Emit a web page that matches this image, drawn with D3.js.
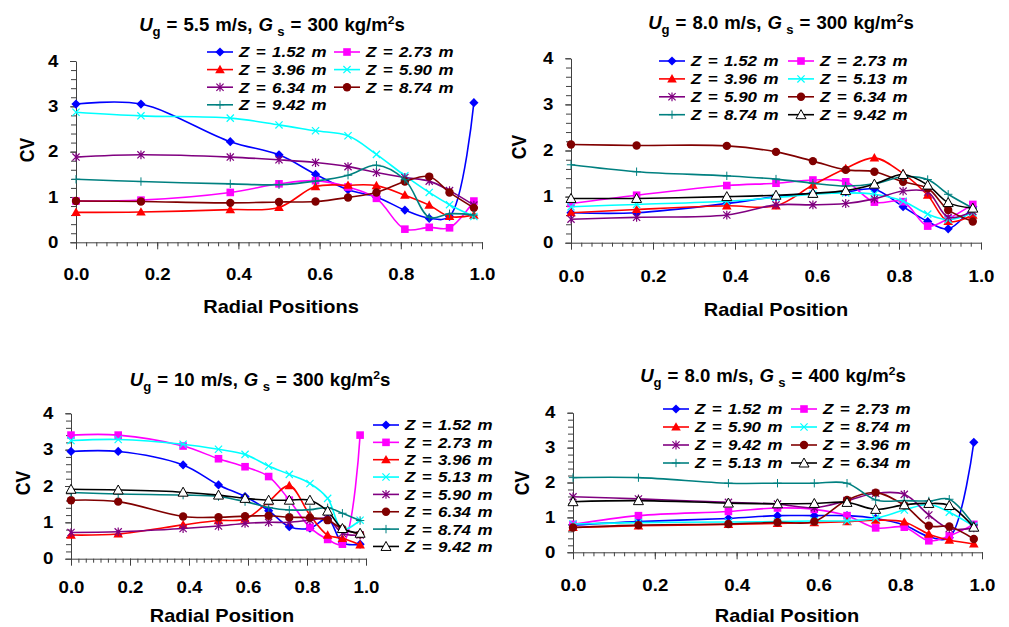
<!DOCTYPE html>
<html>
<head>
<meta charset="utf-8">
<script src="https://cdn.jsdelivr.net/npm/d3@7"></script>
<style>
  body { margin: 0; background: #fff; }
  svg { display: block; font-family: "Liberation Sans", Arial, sans-serif; }
</style>
</head>
<body>
<svg id="chart" width="1009" height="627"></svg>
<script>
// radial positions shared by all four panels
const radial = [0, 0.16, 0.38, 0.5, 0.59, 0.67, 0.74, 0.81, 0.87, 0.92, 0.98];

// panel 1: Ug = 5.5 m/s, Gs = 300
const zP1 = ['1.52', '2.73', '3.96', '5.90', '6.34', '8.74', '9.42'];
const cvP1 = [
  [3.05, 3.05, 2.22, 1.93, 1.50, 1.16, 1.00, 0.71, 0.53, 0.57, 3.08],
  [0.91, 0.93, 1.10, 1.29, 1.36, 1.22, 0.97, 0.29, 0.33, 0.32, 0.91],
  [0.66, 0.67, 0.72, 0.77, 1.23, 1.26, 1.25, 1.04, 0.82, 0.57, 0.60],
  [2.87, 2.79, 2.74, 2.59, 2.46, 2.35, 1.94, 1.47, 1.10, 0.83, 0.57],
  [1.88, 1.93, 1.88, 1.82, 1.76, 1.67, 1.54, 1.43, 1.35, 1.14, 0.82],
  [0.91, 0.90, 0.87, 0.89, 0.90, 0.99, 1.10, 1.34, 1.45, 1.10, 0.76],
  [1.39, 1.34, 1.29, 1.27, 1.35, 1.48, 1.70, 1.38, 0.55, 0.63, 0.60]
];

// panel 2: Ug = 8.0 m/s, Gs = 300
const zP2 = ['1.52', '2.73', '3.96', '5.13', '5.90', '6.34', '8.74', '9.42'];
const cvP2 = [
  [0.65, 0.65, 0.85, 1.00, 1.07, 1.10, 1.16, 0.78, 0.46, 0.30, 0.78],
  [0.85, 1.03, 1.24, 1.29, 1.36, 1.32, 0.88, 0.89, 0.36, 0.52, 0.83],
  [0.65, 0.72, 0.80, 0.80, 1.25, 1.61, 1.84, 1.50, 1.03, 0.46, 0.60],
  [0.78, 0.83, 0.90, 0.98, 1.05, 1.08, 1.05, 0.90, 0.62, 0.50, 0.65],
  [0.51, 0.55, 0.60, 0.82, 0.82, 0.85, 0.95, 1.12, 1.10, 0.55, 0.68],
  [2.13, 2.11, 2.10, 1.97, 1.77, 1.58, 1.54, 1.32, 1.18, 0.71, 0.46],
  [1.69, 1.54, 1.45, 1.38, 1.29, 1.23, 1.28, 1.43, 1.37, 1.05, 0.75],
  [0.96, 0.96, 1.00, 1.03, 1.07, 1.13, 1.27, 1.48, 1.25, 0.87, 0.75]
];

// panel 3: Ug = 10 m/s, Gs = 300
const zP3 = ['1.52', '2.73', '3.96', '5.13', '5.90', '6.34', '8.74', '9.42'];
const cvP3 = [
  [2.95, 2.95, 2.58, 2.03, 1.71, 1.32, 0.88, 0.84, 1.10, 0.44, 0.40],
  [3.40, 3.40, 3.10, 2.75, 2.53, 2.26, 1.61, 0.86, 0.53, 0.40, 3.40],
  [0.65, 0.68, 0.93, 1.05, 1.09, 1.57, 2.01, 1.20, 0.65, 0.56, 0.38],
  [3.25, 3.28, 3.15, 3.01, 2.87, 2.55, 2.32, 2.07, 1.66, 0.80, 1.06],
  [0.72, 0.74, 0.83, 0.90, 0.97, 1.00, 1.00, 1.06, 1.10, 0.70, 0.65],
  [1.61, 1.57, 1.16, 1.14, 1.17, 1.18, 1.14, 1.13, 1.06, 0.82, 0.67],
  [1.82, 1.78, 1.75, 1.71, 1.57, 1.41, 1.34, 1.35, 1.40, 1.25, 1.05],
  [1.91, 1.89, 1.83, 1.75, 1.66, 1.61, 1.61, 1.61, 1.31, 0.83, 0.70]
];

// panel 4: Ug = 8.0 m/s, Gs = 400
const zP4 = ['1.52', '2.73', '5.90', '8.74', '9.42', '3.96', '5.13', '6.34'];
const cvP4 = [
  [0.78, 0.88, 0.97, 1.05, 1.05, 1.05, 0.97, 0.78, 0.45, 0.42, 3.15],
  [0.80, 1.05, 1.17, 1.27, 1.23, 1.05, 0.70, 0.72, 0.33, 0.47, 0.80],
  [0.71, 0.76, 0.80, 0.83, 0.85, 0.88, 0.92, 0.87, 0.52, 0.35, 0.24],
  [0.81, 0.85, 0.87, 0.88, 0.90, 0.90, 0.98, 1.21, 1.37, 1.15, 0.75],
  [1.59, 1.53, 1.43, 1.38, 1.28, 1.48, 1.69, 1.66, 1.07, 0.68, 0.70],
  [0.71, 0.78, 0.81, 0.86, 0.88, 1.50, 1.71, 1.35, 0.76, 0.74, 0.38],
  [2.14, 2.14, 1.98, 1.98, 1.98, 1.98, 1.50, 1.48, 1.47, 1.52, 0.78],
  [1.45, 1.48, 1.41, 1.39, 1.40, 1.43, 1.23, 1.36, 1.40, 1.34, 0.72]
];

const ugValues = ['5.5', '8.0', '10', '8.0'];
const gsValues = ['300', '300', '300', '400'];
const xTitles = ['Radial Positions', 'Radial Position', 'Radial Position', 'Radial Position'];
const xTicks = [0, 0.2, 0.4, 0.6, 0.8, 1.0];
const yTicks = [0, 1, 2, 3, 4];

// series look, by legend order
const seriesStyle = [
  { color: '#0000ff', marker: 'diamond' },
  { color: '#ff00ff', marker: 'square' },
  { color: '#ff0000', marker: 'triangle' },
  { color: '#00ffff', marker: 'x' },
  { color: '#800080', marker: 'star' },
  { color: '#800000', marker: 'circle' },
  { color: '#008080', marker: 'plus' },
  { color: '#000000', marker: 'opentri' }
];

// layout of each panel (pixels)
const panels = [
  { z: zP1, cv: cvP1, x0: 76, x1: 482, y0: 242.3, y1: 61, xPad: 19,
    title: [272, 31], xTitle: [281, 313], yTitle: [27, 150],
    legend: { x: 207, y: 52, cols: 2, colW: 127, rowH: 17.6 } },
  { z: zP2, cv: cvP2, x0: 571, x1: 981, y0: 242.7, y1: 58.3, xPad: 20.5,
    title: [781, 28.5], xTitle: [776, 316], yTitle: [519, 147],
    legend: { x: 659, y: 61, cols: 2, colW: 129, rowH: 17.9 } },
  { z: zP3, cv: cvP3, x0: 71, x1: 366, y0: 558.7, y1: 413.3, xPad: 15.5,
    title: [260, 385.5], xTitle: [222, 621.5], yTitle: [23, 483],
    legend: { x: 373, y: 425, cols: 1, colW: 0, rowH: 17.35 } },
  { z: zP4, cv: cvP4, x0: 573, x1: 982, y0: 552.3, y1: 412.7, xPad: 19.5,
    title: [773, 382], xTitle: [787, 621.5], yTitle: [522, 483],
    legend: { x: 663, y: 409, cols: 2, colW: 128, rowH: 18 } }
];

const axisColor = '#404040';
const textStretch = 1.13;   // the source lettering is drawn a bit wide
const svg = d3.select('#chart');

function drawMarker(g, type, color) {
  switch (type) {
    case 'diamond':
      g.append('path').attr('d', 'M0,-4.6L4.6,0L0,4.6L-4.6,0Z').attr('fill', color);
      break;
    case 'square':
      g.append('rect').attr('x', -3.8).attr('y', -3.8).attr('width', 7.6).attr('height', 7.6).attr('fill', color);
      break;
    case 'triangle':
      g.append('path').attr('d', 'M0,-4.8L4.8,3.6L-4.8,3.6Z').attr('fill', color);
      break;
    case 'x':
      g.append('path').attr('d', 'M-3.6,-3.6L3.6,3.6M-3.6,3.6L3.6,-3.6')
        .attr('stroke', color).attr('stroke-width', 1.2).attr('fill', 'none');
      break;
    case 'star':
      g.append('path').attr('d', 'M-3.6,-3.6L3.6,3.6M-3.6,3.6L3.6,-3.6M0,-4.4V4.4')
        .attr('stroke', color).attr('stroke-width', 1.2).attr('fill', 'none');
      break;
    case 'circle':
      g.append('circle').attr('r', 4.2).attr('fill', color);
      break;
    case 'plus':
      g.append('path').attr('d', 'M-4.2,0H4.2M0,-4.2V4.2')
        .attr('stroke', color).attr('stroke-width', 1).attr('fill', 'none');
      break;
    case 'opentri':
      g.append('path').attr('d', 'M0,-5L5,4L-5,4Z')
        .attr('fill', '#fff').attr('stroke', color).attr('stroke-width', 1);
      break;
  }
}

// text placed at (x, y) and widened horizontally
function wideText(g, x, y, sx, extra) {
  return g.append('text')
    .attr('transform', `translate(${x},${y}) scale(${sx},1)${extra || ''}`)
    .attr('font-weight', 'bold');
}

panels.forEach((p, pi) => {
  const x = d3.scaleLinear().domain([0, 1]).range([p.x0, p.x1]);
  const y = d3.scaleLinear().domain([0, 4]).range([p.y0, p.y1]);
  const g = svg.append('g');

  // minor ticks
  g.append('g')
    .attr('transform', `translate(0,${p.y0})`)
    .call(d3.axisBottom(x).tickValues(d3.range(0, 41).map(i => i / 40)).tickSize(4).tickFormat(''))
    .call(a => a.select('.domain').remove());
  g.append('g')
    .attr('transform', `translate(${p.x0},0)`)
    .call(d3.axisLeft(y).tickValues(d3.range(0, 21).map(i => i / 5)).tickSize(5).tickFormat(''))
    .call(a => a.select('.domain').remove());

  // major ticks + labels
  const xa = g.append('g')
    .attr('transform', `translate(0,${p.y0})`)
    .call(d3.axisBottom(x).tickValues(xTicks).tickSize(7).tickPadding(p.xPad).tickSizeOuter(0).tickFormat(d3.format('.1f')));
  const ya = g.append('g')
    .attr('transform', `translate(${p.x0},0)`)
    .call(d3.axisLeft(y).tickValues(yTicks).tickSize(6).tickPadding(9.7).tickSizeOuter(0).tickFormat(d3.format('d')));
  [xa, ya].forEach(a => {
    a.selectAll('text')
      .attr('font-size', 16.5).attr('font-weight', 'bold').attr('fill', '#000')
      .attr('font-family', '"Liberation Sans", Arial, sans-serif')
      .attr('transform', `scale(${textStretch},1)`);
  });
  g.selectAll('.tick line').attr('stroke', axisColor);
  g.selectAll('.domain').attr('stroke', axisColor);

  // series
  const line = d3.line()
    .x((d, i) => x(radial[i]))
    .y(d => y(d))
    .curve(d3.curveCatmullRom.alpha(0.5));

  p.cv.forEach((vals, si) => {
    const st = seriesStyle[si];
    g.append('path')
      .attr('d', line(vals))
      .attr('fill', 'none')
      .attr('stroke', st.color)
      .attr('stroke-width', 1.6);
    vals.forEach((v, i) => {
      const m = g.append('g').attr('transform', `translate(${x(radial[i])},${y(v)})`);
      drawMarker(m, st.marker, st.color);
    });
  });

  // legend
  const lg = p.legend;
  p.z.forEach((z, si) => {
    const col = si % lg.cols, row = Math.floor(si / lg.cols);
    const lx = lg.x + col * lg.colW, ly = lg.y + row * lg.rowH;
    const st = seriesStyle[si];
    g.append('line')
      .attr('x1', lx).attr('x2', lx + 26).attr('y1', ly).attr('y2', ly)
      .attr('stroke', st.color).attr('stroke-width', 1.6);
    drawMarker(g.append('g').attr('transform', `translate(${lx + 13},${ly})`), st.marker, st.color);
    wideText(g, lx + 32, ly + 5.4, textStretch)
      .attr('font-size', 15).attr('font-style', 'italic')
      .attr('word-spacing', 1.5)
      .text(`Z = ${z} m`);
  });

  // panel title
  const t = wideText(g, p.title[0], p.title[1], 1.05)
    .attr('text-anchor', 'middle')
    .attr('font-size', 17.7)
    .attr('word-spacing', 0.8);
  t.append('tspan').attr('font-style', 'italic').text('U');
  t.append('tspan').attr('font-size', 12.5).attr('dy', 5).text('g');
  t.append('tspan').attr('dy', -5).text(` = ${ugValues[pi]} m/s, `);
  t.append('tspan').attr('font-style', 'italic').text('G');
  t.append('tspan').attr('font-size', 12.5).attr('dy', 5).text(' s');
  t.append('tspan').attr('dy', -5).text(` = ${gsValues[pi]} kg/m`);
  t.append('tspan').attr('font-size', 11.5).attr('dy', -7).text('2');
  t.append('tspan').attr('dy', 7).text('s');

  // axis titles
  wideText(g, p.xTitle[0], p.xTitle[1], textStretch)
    .attr('text-anchor', 'middle')
    .attr('font-size', 17.7)
    .text(xTitles[pi]);
  wideText(g, p.yTitle[0] + 6.5, p.yTitle[1], textStretch, ' rotate(-90)')
    .attr('text-anchor', 'middle')
    .attr('font-size', 17.5)
    .text('CV');
});
</script>
</body>
</html>
